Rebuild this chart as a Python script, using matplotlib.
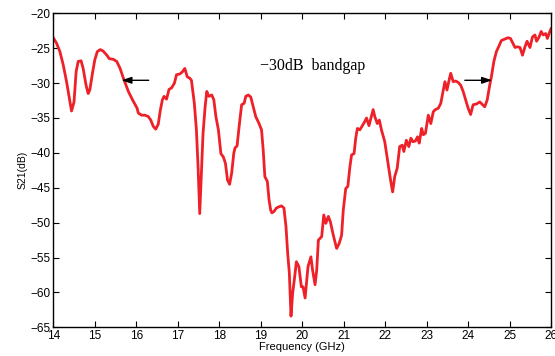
import matplotlib
matplotlib.use('Agg')
import matplotlib.pyplot as plt

# S21 trace
freq = [14.00, 14.08, 14.16, 14.24, 14.32, 14.39, 14.44, 14.50, 14.55, 14.60,
        14.67, 14.72, 14.79, 14.84, 14.88, 14.95, 15.00, 15.06, 15.13, 15.20,
        15.29, 15.35, 15.45, 15.53, 15.61, 15.69, 15.81, 15.91, 16.02, 16.05,
        16.13, 16.21, 16.29, 16.35, 16.41, 16.47, 16.53, 16.58, 16.63, 16.67,
        16.73, 16.79, 16.85, 16.92, 16.97, 17.05, 17.11, 17.17, 17.23, 17.29,
        17.33, 17.40, 17.45, 17.49, 17.53, 17.56, 17.61, 17.66, 17.70, 17.75,
        17.82, 17.87, 17.92, 17.98, 18.04, 18.10, 18.15, 18.20, 18.25, 18.30,
        18.35, 18.38, 18.43, 18.48, 18.54, 18.60, 18.64, 18.70, 18.76, 18.82,
        18.88, 18.96, 19.02, 19.06, 19.10, 19.16, 19.20, 19.24, 19.27, 19.32,
        19.38, 19.45, 19.50, 19.56, 19.61, 19.65, 19.69, 19.73, 19.77, 19.81,
        19.86, 19.92, 19.98, 20.02, 20.07, 20.14, 20.21, 20.25, 20.31, 20.35,
        20.39, 20.47, 20.52, 20.57, 20.63, 20.68, 20.75, 20.83, 20.89, 20.95,
        20.99, 21.05, 21.10, 21.15, 21.19, 21.25, 21.29, 21.33, 21.39, 21.46,
        21.51, 21.55, 21.61, 21.67, 21.71, 21.75, 21.81, 21.86, 21.91, 21.99,
        22.07, 22.13, 22.18, 22.23, 22.29, 22.35, 22.41, 22.45, 22.51, 22.57,
        22.62, 22.67, 22.73, 22.78, 22.82, 22.88, 22.92, 22.97, 23.04, 23.10,
        23.16, 23.21, 23.28, 23.34, 23.40, 23.44, 23.49, 23.54, 23.58, 23.64,
        23.70, 23.76, 23.82, 23.88, 23.94, 24.00, 24.06, 24.12, 24.20, 24.28,
        24.35, 24.40, 24.46, 24.52, 24.56, 24.62, 24.68, 24.75, 24.80, 24.88,
        24.96, 25.02, 25.08, 25.13, 25.18, 25.25, 25.31, 25.37, 25.42, 25.49,
        25.55, 25.61, 25.65, 25.71, 25.76, 25.81, 25.87, 25.91, 25.97, 26.00]
s21 = [-23.5, -24.3, -25.5, -27.4, -29.8, -32.2, -34.0, -32.7, -28.4, -26.9,
       -26.8, -27.9, -30.3, -31.5, -31.0, -28.4, -26.7, -25.5, -25.2, -25.4,
       -26.0, -26.5, -26.6, -26.9, -27.9, -29.3, -31.2, -32.4, -33.6, -34.3,
       -34.6, -34.6, -34.8, -35.3, -36.2, -36.6, -35.9, -33.9, -32.4, -31.9,
       -32.3, -30.9, -30.7, -30.0, -28.8, -28.7, -28.4, -27.9, -29.1, -29.3,
       -29.6, -32.9, -36.7, -42.0, -48.7, -44.4, -37.2, -33.4, -31.2, -31.9,
       -31.7, -32.4, -34.8, -36.7, -40.1, -40.6, -41.5, -43.9, -44.5, -42.9,
       -40.1, -39.3, -39.0, -36.2, -33.1, -32.9, -31.9, -31.7, -32.0, -33.4,
       -34.8, -35.8, -36.7, -39.6, -43.4, -44.1, -46.7, -48.2, -48.6, -48.4,
       -47.9, -47.7, -47.6, -47.9, -50.6, -54.4, -57.2, -63.4, -60.1, -58.2,
       -55.6, -56.3, -59.2, -59.2, -60.8, -56.3, -54.9, -56.8, -58.9, -56.8,
       -52.5, -52.0, -48.9, -50.1, -49.1, -49.9, -51.8, -53.7, -53.0, -51.8,
       -48.2, -45.1, -44.8, -42.0, -40.3, -40.1, -37.9, -36.5, -36.7, -36.0,
       -35.5, -35.0, -36.1, -34.7, -33.8, -34.8, -35.8, -35.3, -36.7, -38.4,
       -41.5, -43.9, -45.6, -43.4, -42.2, -39.1, -38.9, -39.8, -38.2, -39.1,
       -37.9, -38.4, -38.3, -37.7, -38.6, -36.5, -37.4, -37.2, -34.6, -35.8,
       -34.1, -33.8, -33.6, -32.9, -31.0, -29.8, -31.0, -29.6, -28.6, -29.8,
       -29.7, -29.9, -30.3, -31.2, -32.4, -33.6, -34.5, -33.1, -33.0, -32.7,
       -33.1, -33.4, -32.4, -30.3, -29.1, -26.9, -25.5, -24.6, -23.9, -23.7,
       -23.5, -23.6, -24.3, -24.9, -24.8, -24.9, -26.0, -24.8, -24.0, -24.9,
       -23.4, -23.1, -24.0, -23.4, -22.6, -23.1, -22.9, -23.6, -22.6, -22.2]

x_ticks = [14, 15, 16, 17, 18, 19, 20, 21, 22, 23, 24, 25, 26]
y_ticks = [-65, -60, -55, -50, -45, -40, -35, -30, -25, -20]

plt.rcParams['font.family'] = ['Liberation Sans', 'DejaVu Sans']

fig = plt.figure(figsize=(5.55, 3.56), dpi=100)
ax = fig.add_axes([0.096, 0.0806, 0.897, 0.882])

ax.plot(freq, s21, color='#ee2028', linewidth=2.0)

ax.set_xlim(14, 26)
ax.set_ylim(-65, -20)
ax.set_xticks(x_ticks)
ax.set_yticks(y_ticks)
ax.tick_params(direction='in', top=True, right=True, length=4, width=0.8,
               labelsize=8.5, pad=2)
for sp in ax.spines.values():
    sp.set_linewidth(1.0)

ax.set_xlabel('Frequency (GHz)', fontsize=8, labelpad=0)
ax.set_ylabel('S21(dB)', fontsize=7.5, labelpad=2)

# bandgap annotation
ax.text(18.98, -27.6, '\u221230dB  bandgap', family=['Liberation Serif', 'DejaVu Serif'],
        fontsize=11.5, va='center', ha='left')
ax.annotate('', xy=(15.64, -29.6), xytext=(16.3, -29.6),
            arrowprops=dict(arrowstyle='-|>,head_length=0.6,head_width=0.2',
                            color='black', lw=1.0, shrinkA=0, shrinkB=0))
ax.annotate('', xy=(24.58, -29.6), xytext=(23.92, -29.6),
            arrowprops=dict(arrowstyle='-|>,head_length=0.6,head_width=0.2',
                            color='black', lw=1.0, shrinkA=0, shrinkB=0))

fig.savefig('out.png', dpi=100)
